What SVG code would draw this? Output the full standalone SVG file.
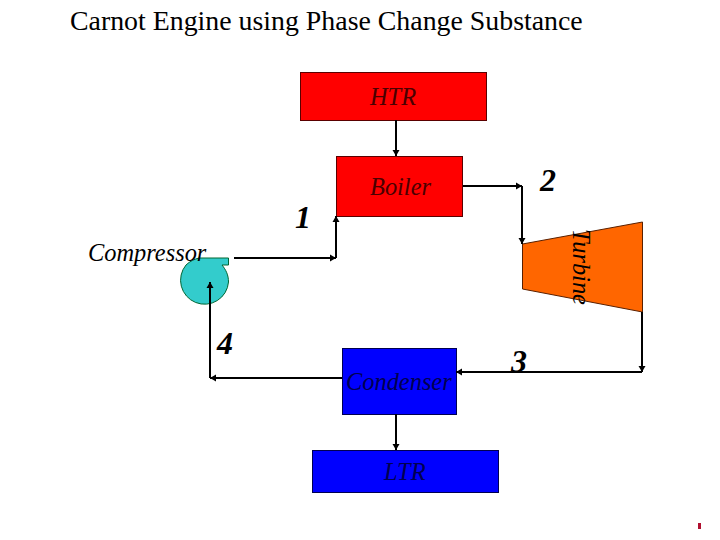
<svg xmlns="http://www.w3.org/2000/svg" width="720" height="540" viewBox="0 0 720 540">
<style>
text{font-family:"Liberation Serif","Times New Roman",serif;fill:#000}
.l{font-style:italic;font-size:24.4px}
.dt{fill:#4a0000}
.bt{fill:#000050}
.n{font-style:italic;font-weight:bold;font-size:32px}
.d{fill:#f00;stroke:#5a0000;stroke-width:1}
.b{fill:#00f;stroke:#000050;stroke-width:1}
.c{fill:none;stroke:#000;stroke-width:2;marker-end:url(#a)}
</style>
<defs><marker id="a" markerUnits="userSpaceOnUse" markerWidth="8" markerHeight="8" refX="7" refY="4" orient="auto"><path d="M1 0.500L7 4L1 7.500Z" fill="#000"/></marker></defs>
<rect width="720" height="540" fill="#fff"/>
<text x="70" y="30" font-size="27.85">Carnot Engine using Phase Change Substance</text>
<g id="htr"><rect class="d" x="300.5" y="72.5" width="186" height="48"/><text class="l dt" x="370" y="105">HTR</text></g>
<g id="boiler"><rect class="d" x="336.5" y="156.5" width="126" height="60"/><text class="l dt" x="370" y="195">Boiler</text></g>
<g id="turbine"><path d="M522.5 244L642.5 222V312L522.5 289Z" fill="#f60" stroke="#5a2000"/><text class="l" transform="translate(573,229) rotate(90)">Turbine</text></g>
<g id="compressor"><path d="M199 258H228.500V265H222C226 270 228.500 275 228.500 282A24 24 0 1 1 186 265C190 261 195 259 199 258Z" fill="#3cc" stroke="#063"/><text class="l" x="88" y="261">Compressor</text></g>
<g id="condenser"><rect class="b" x="342.500" y="348.500" width="114" height="66"/><text class="l bt" x="346" y="390">Condenser</text></g>
<g id="ltr"><rect class="b" x="312.500" y="450.500" width="186" height="42"/><text class="l bt" x="384" y="480">LTR</text></g>
<g id="connectors">
<path class="c" d="M396 120V156"/>
<path class="c" d="M463 186H522"/>
<path class="c" d="M522 186V244"/>
<path class="c" d="M234 258H336"/>
<path class="c" d="M336 258V216"/>
<path class="c" d="M642 312V372"/>
<path class="c" d="M642 372H456"/>
<path class="c" d="M342 378H210"/>
<path class="c" d="M210 378V282"/>
<path class="c" d="M396 414V450"/>
</g>
<g id="labels">
<text class="n" x="295" y="228">1</text>
<text class="n" x="540" y="191">2</text>
<text class="n" x="511" y="372">3</text>
<text class="n" x="217" y="354">4</text>
</g>
<rect x="698" y="523" width="3" height="6" fill="#b01030"/>
</svg>
